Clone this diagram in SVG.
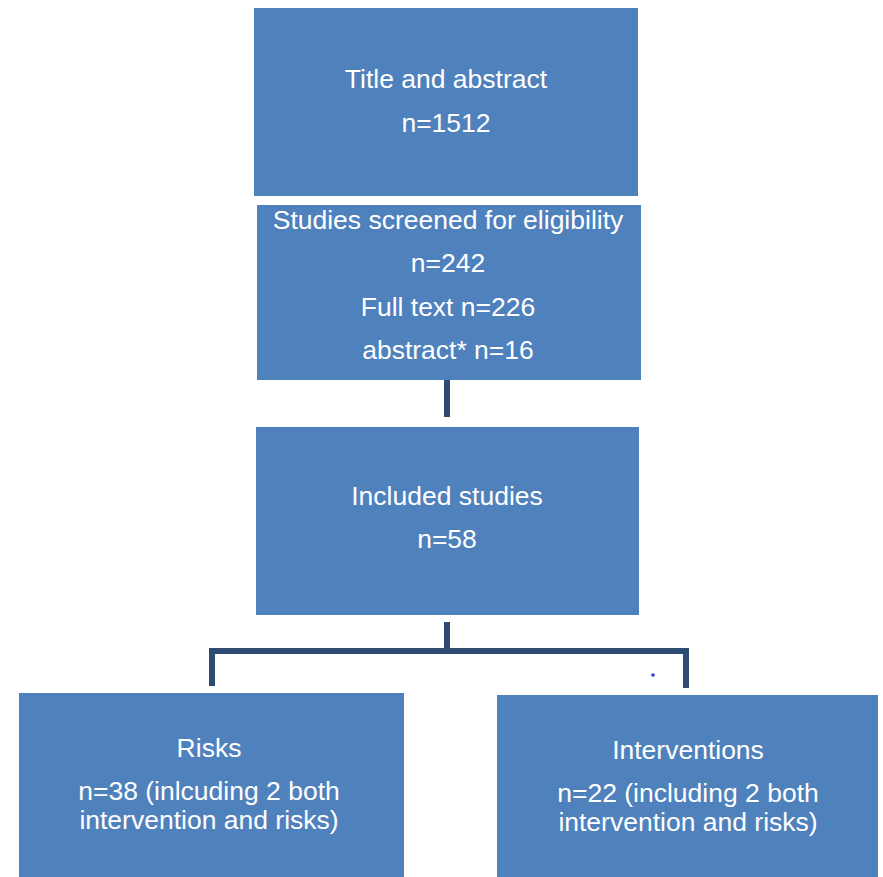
<svg xmlns="http://www.w3.org/2000/svg" width="883" height="877" viewBox="0 0 883 877">
<style>
.box{fill:#4f81bd;}
.t{font-family:"Liberation Sans",Arial,sans-serif;font-size:26.5px;fill:#ffffff;text-anchor:middle;}
.c{stroke:#2e4b72;stroke-width:6;fill:none;stroke-linecap:butt;}
</style>
<rect width="883" height="877" fill="#ffffff"/>
<g id="connectors">
<line class="c" x1="447" y1="380" x2="447" y2="417"/>
<line class="c" x1="447" y1="622" x2="447" y2="651"/>
<polyline class="c" points="212,686 212,651 686,651 686,688"/>
</g>
<g id="n1">
<rect class="box" x="254" y="8" width="384" height="188"/>
<text class="t" x="446" y="88">Title and abstract</text>
<text class="t" x="446" y="132">n=1512</text>
</g>
<g id="n2">
<rect class="box" x="257" y="205" width="384" height="175"/>
<text class="t" x="448" y="229">Studies screened for eligibility</text>
<text class="t" x="448" y="272">n=242</text>
<text class="t" x="448" y="316">Full text n=226</text>
<text class="t" x="448" y="359">abstract* n=16</text>
</g>
<g id="n3">
<rect class="box" x="256" y="427" width="383" height="188"/>
<text class="t" x="447" y="505">Included studies</text>
<text class="t" x="447" y="548">n=58</text>
</g>
<g id="n4">
<rect class="box" x="19" y="693" width="385" height="184"/>
<text class="t" x="209" y="757">Risks</text>
<text class="t" x="209" y="800">n=38 (inlcuding 2 both</text>
<text class="t" x="209" y="829">intervention and risks)</text>
</g>
<g id="n5">
<rect class="box" x="497" y="695" width="381" height="182"/>
<text class="t" x="688" y="759">Interventions</text>
<text class="t" x="688" y="802">n=22 (including 2 both</text>
<text class="t" x="688" y="831">intervention and risks)</text>
</g>
<circle cx="653" cy="675" r="1.8" fill="#2a3fd8"/>
</svg>
